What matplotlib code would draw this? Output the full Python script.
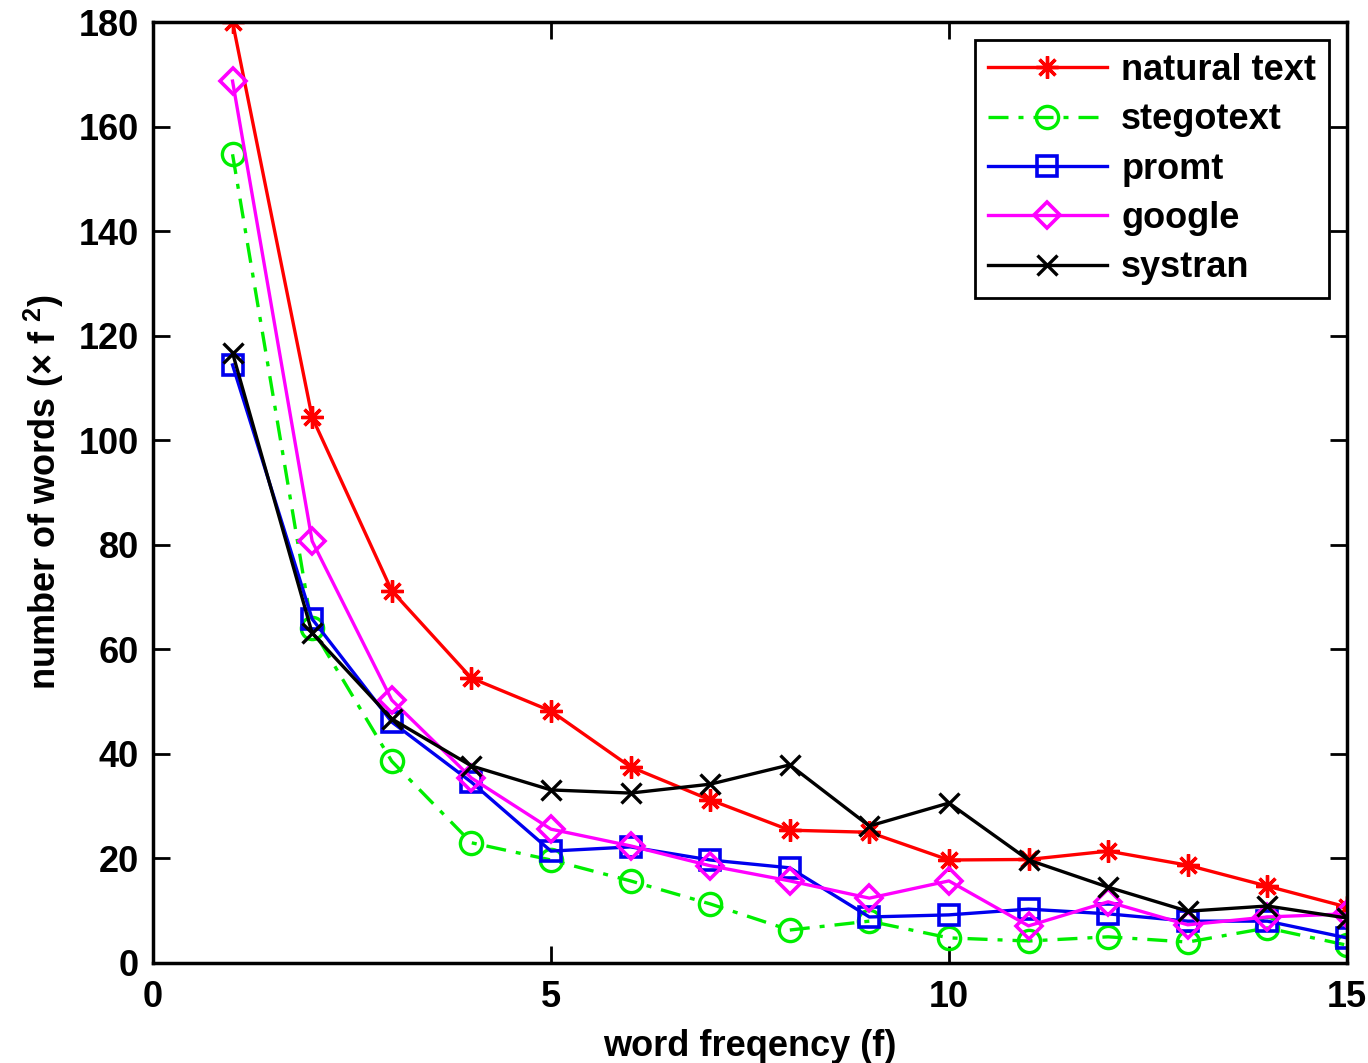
import matplotlib
matplotlib.use('Agg')
import matplotlib.pyplot as plt

plt.rcParams['font.family'] = ['Liberation Sans', 'DejaVu Sans']
plt.rcParams['font.weight'] = 'bold'
plt.rcParams['mathtext.fontset'] = 'custom'
plt.rcParams['mathtext.bf'] = 'Liberation Sans:bold'
plt.rcParams['mathtext.rm'] = 'Liberation Sans:bold'

freq = list(range(1, 16))
natural = [180, 104.4, 71.2, 54.5, 48.2, 37.5, 31.2, 25.4, 25.0, 19.7, 19.8, 21.4, 18.7, 14.7, 10.7]
stego = [154.7, 64.0, 38.6, 23.0, 19.7, 15.7, 11.3, 6.3, 8.0, 4.8, 4.2, 5.0, 4.0, 6.7, 3.4]
promt = [114.4, 65.8, 46.1, 34.6, 21.4, 22.2, 19.7, 18.2, 8.8, 9.2, 10.3, 9.4, 8.0, 8.0, 4.8]
google = [168.7, 80.7, 50.3, 35.4, 25.6, 22.4, 18.6, 15.7, 12.4, 15.7, 7.1, 11.7, 7.3, 8.8, 9.4]
systran = [116.7, 63.1, 46.7, 37.7, 33.1, 32.5, 34.2, 37.9, 26.2, 30.6, 19.7, 14.5, 9.9, 10.9, 8.6]

fig = plt.figure(figsize=(13.68, 10.63), dpi=100)
ax = fig.add_axes([0.1118, 0.0941, 0.8728, 0.8852])

ms = 16
ax.plot(freq, natural, '-', color='red', marker=(8, 2, 0), ms=ms, mew=2.4, lw=2.4, label='natural text')
ax.plot(freq, stego, '-.', color='#00ee00', marker='o', ms=ms, mew=2.4, lw=2.4, mfc='none',
        dashes=(6, 3, 1.5, 3), label='stegotext')
ax.plot(freq, promt, '-', color='#0000ee', marker='s', ms=ms - 1, mew=2.6, lw=2.4, mfc='none', label='promt')
ax.plot(freq, google, '-', color='magenta', marker='D', ms=ms - 3, mew=2.6, lw=2.4, mfc='none', label='google')
ax.plot(freq, systran, '-', color='black', marker='x', ms=ms - 1, mew=2.4, lw=2.4, label='systran')

ax.set_xlim(0, 15)
ax.set_ylim(0, 180)
ax.set_xticks([0, 5, 10, 15])
ax.set_yticks(range(0, 181, 20))
ax.tick_params(direction='in', length=12, width=2, labelsize=26, top=True, right=True)
ax.tick_params(axis='x', pad=12)
ax.tick_params(axis='y', pad=10)
for s in ax.spines.values():
    s.set_linewidth(2.5)

ax.set_xlabel('word freqency (f)', fontsize=26, fontweight='bold', labelpad=10)
ax.set_ylabel(r'number of words (× f $^{\mathbf{2}}$)', fontsize=26, fontweight='bold', labelpad=9)

leg = ax.legend(loc='upper right', fontsize=26, handlelength=3.3, fancybox=False,
                edgecolor='black', framealpha=1, borderaxespad=0.5, labelspacing=0.4,
                handletextpad=0.4, borderpad=0.35)
leg.get_frame().set_linewidth(2)

fig.savefig('out.png', dpi=100)
